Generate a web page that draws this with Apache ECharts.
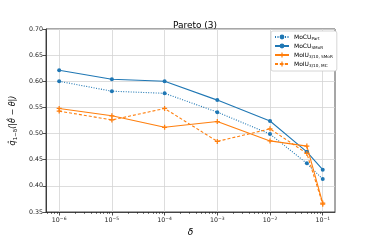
<!DOCTYPE html>
<html><head><meta charset="utf-8">
<script src="https://cdn.jsdelivr.net/npm/echarts@6/dist/echarts.min.js"></script>
<style>html,body{margin:0;padding:0;background:#fff}#c{width:374px;height:243px}</style>
</head><body><div id="c"></div>
<script>
const deltas = [1e-6, 1e-5, 1e-4, 1e-3, 1e-2, 0.05, 0.1];
const mocuPart = [0.600, 0.581, 0.577, 0.541, 0.499, 0.443, 0.413];
const mocuSmor = [0.621, 0.604, 0.600, 0.564, 0.524, 0.465, 0.431];
const moiuSmor = [0.548, 0.534, 0.512, 0.523, 0.486, 0.476, 0.367];
const moiuMc   = [0.543, 0.526, 0.548, 0.485, 0.509, 0.462, 0.365];
const xTickExps = [-6, -5, -4, -3, -2, -1];
const yTicks = [0.35, 0.40, 0.45, 0.50, 0.55, 0.60, 0.65, 0.70];

const blue = '#1f77b4', orange = '#ff7f0e';
const plus = 'path://M3,0 L5,0 L5,3 L8,3 L8,5 L5,5 L5,8 L3,8 L3,5 L0,5 L0,3 L3,3 Z';
const toData = v => deltas.map((d, i) => [Math.log10(d), v[i]]);
const xMin = -6.25, xMax = -0.767;
const minor = [];
for (let n = -7; n <= -1; n++) for (let k = 2; k <= 9; k++) {
  const v = n + Math.log10(k);
  if (v > xMin && v < xMax) minor.push(v);
}
const legendRich = {
  MoCU_Part: 'MoCU{s|Part}', MoCU_SMoR: 'MoCU{s|SMoR}',
  'MoIU_3/10,SMoR': 'MoIU{s|3/10, SMoR}', 'MoIU_3/10,MC': 'MoIU{s|3/10, MC}'
};
const font = 'DejaVu Sans';
function mk(name, vals, color, type, symbol, size) {
  return {
    name, type: 'line', data: toData(vals), symbol, symbolSize: size,
    lineStyle: { color, width: 1.1, type },
    itemStyle: { color }, emphasis: { disabled: true }, animation: false
  };
}
const chart = echarts.init(document.getElementById('c'), null, { renderer: 'canvas' });
chart.setOption({
  animation: false,
  textStyle: { fontFamily: font },
  title: { text: 'Pareto (3)', left: 190, top: 16, textAlign: 'center',
    textStyle: { fontFamily: font, fontSize: 9, fontWeight: 'normal', color: '#000' } },
  grid: { left: 46, right: 39, top: 29, bottom: 31, show: true, borderColor: '#222', borderWidth: 0.8 },
  legend: {
    orient: 'vertical', left: 271, top: 31, padding: [3, 4, 3, 3], itemGap: 2,
    itemWidth: 14, itemHeight: 6, backgroundColor: '#fff', borderColor: '#ccc',
    borderWidth: 0.8, borderRadius: 2,
    formatter: n => legendRich[n],
    textStyle: { fontFamily: font, fontSize: 6, color: '#000',
      rich: { s: { fontSize: 4.2, verticalAlign: 'bottom', padding: [4, 0, 0, 0], fontFamily: font } } }
  },
  xAxis: [{
    type: 'value', min: xMin, max: xMax,
    name: 'δ', nameLocation: 'middle', nameGap: 13,
    nameTextStyle: { fontFamily: font, fontSize: 9, fontStyle: 'italic', color: '#000' },
    axisLine: { lineStyle: { color: '#222', width: 0.8 } },
    axisTick: { show: true, length: 3.5, customValues: xTickExps, lineStyle: { color: '#222', width: 0.8 } },
    axisLabel: { customValues: xTickExps, fontSize: 6.3, color: '#222', margin: 4, fontFamily: font,
      formatter: v => '10{u|−' + Math.round(-v) + '}',
      rich: { u: { fontSize: 4.5, verticalAlign: 'top', padding: [0, 0, 4, 0], fontFamily: font, color: '#222' } } },
    splitLine: { show: true, lineStyle: { color: '#d4d4d4', width: 0.8 } }
  }, {
    type: 'value', min: xMin, max: xMax, position: 'bottom', gridIndex: 0,
    axisLine: { show: false },
    axisTick: { show: true, length: 2, customValues: minor, lineStyle: { color: '#222', width: 0.6 } },
    axisLabel: { show: false }, splitLine: { show: false }
  }],
  yAxis: {
    type: 'value', min: 0.35, max: 0.70, interval: 0.05,
    name: '{a|q̂}{s|1−δ}{a|(|θ̂ − θ|)}', nameLocation: 'middle', nameRotate: 90, nameGap: 24,
    nameTextStyle: { fontFamily: font, fontSize: 8, color: '#000',
      rich: { a: { fontSize: 8, fontStyle: 'italic', fontFamily: font },
              s: { fontSize: 5.5, verticalAlign: 'bottom', padding: [4, 0, 0, 0], fontFamily: font } } },
    axisLine: { show: true, lineStyle: { color: '#222', width: 0.8 } },
    axisTick: { show: true, length: 3.5, lineStyle: { color: '#222', width: 0.8 } },
    axisLabel: { fontSize: 6.3, color: '#222', margin: 3, fontFamily: font, formatter: v => v.toFixed(2) },
    splitLine: { show: true, lineStyle: { color: '#d4d4d4', width: 0.8 } }
  },
  series: [
    mk('MoCU_Part', mocuPart, blue, [1, 1.5], 'circle', 4),
    mk('MoCU_SMoR', mocuSmor, blue, 'solid', 'circle', 4),
    mk('MoIU_3/10,SMoR', moiuSmor, orange, 'solid', plus, 5),
    mk('MoIU_3/10,MC', moiuMc, orange, [3, 2], plus, 5)
  ]
});
</script></body></html>
